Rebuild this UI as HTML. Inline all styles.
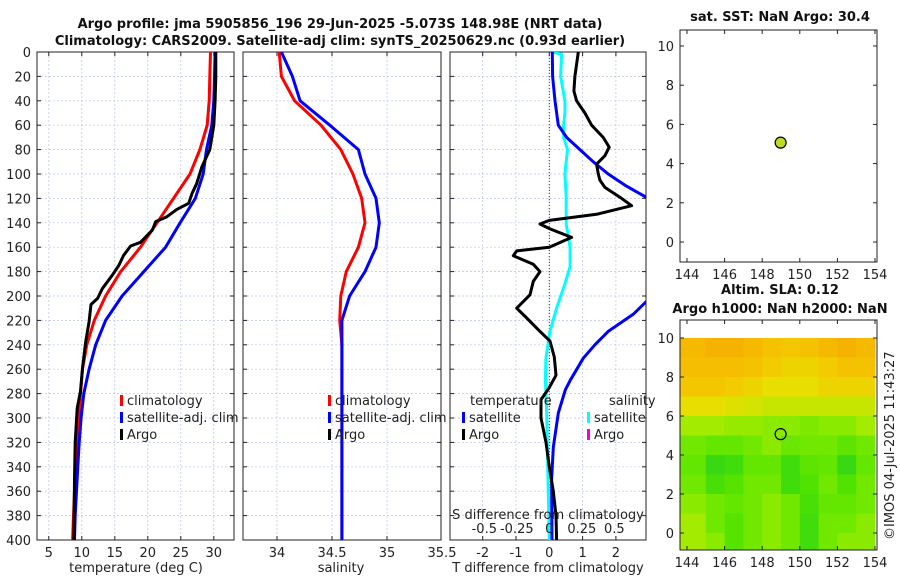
<!DOCTYPE html>
<html><head><meta charset="utf-8">
<style>
body{margin:0;background:#fff}
svg{display:block;font-family:"DejaVu Sans","Liberation Sans",sans-serif}
.t{font-size:13px;fill:#222}
.b{font-size:13px;font-weight:bold;fill:#111}
</style></head><body>
<svg id="c" width="900" height="580" viewBox="0 0 900 580">
<defs>
<clipPath id="cp1"><rect x="37" y="52" width="197" height="488"/></clipPath>
<clipPath id="cp2"><rect x="243" y="52" width="198" height="488"/></clipPath>
<clipPath id="cp3"><rect x="450" y="52" width="196" height="488"/></clipPath>
</defs>
<text class="b" x="340" y="28" text-anchor="middle">Argo profile: jma 5905856_196 29-Jun-2025 -5.073S 148.98E (NRT data)</text>
<text class="b" x="340" y="45" text-anchor="middle">Climatology: CARS2009. Satellite-adj clim: synTS_20250629.nc (0.93d earlier)</text>
<text class="b" x="780" y="21" text-anchor="middle">sat. SST: NaN Argo: 30.4</text>
<text class="b" x="780" y="294" text-anchor="middle">Altim. SLA: 0.12</text>
<text class="b" x="780" y="313" text-anchor="middle">Argo h1000: NaN h2000: NaN</text>
<text class="t" x="0" y="0" transform="translate(894,540) rotate(-90)">©IMOS 04-Jul-2025 11:43:27</text>
<g id="g"></g>
</svg>
<script>
// ---- data ----
const depths = [0,20,40,60,80,100,120,140,160,180,200,220,240,260,280,300,320,340,360,380,400];
const tClim = [29.5,29.4,29.3,29.0,27.9,26.4,23.9,21.4,18.9,15.9,13.6,11.9,10.75,10.1,9.8,9.5,9.3,9.1,8.9,8.75,8.6];
const tSat  = [30.2,30.1,30.0,29.7,28.9,28.4,27.2,24.9,22.7,19.4,16.1,13.6,12.1,11.1,10.3,9.9,9.6,9.4,9.2,9.0,8.9];
const argoDepths = [0,20,40,60,80,94,108,116,124,129,135,139,146,156,159,167,175,183,194,202,207,221,237,259,278,292,320,350,400];
const tArgo = [30.3,30.3,30.2,30.0,29.4,28.2,27.4,26.7,26.2,24.4,22.9,21.2,20.7,18.9,17.4,16.3,15.6,14.6,13.1,12.4,11.4,11.1,10.6,10.1,9.8,9.3,9.0,8.9,8.8];
const sClim = [34.02,34.04,34.16,34.40,34.58,34.69,34.77,34.80,34.74,34.63,34.58,34.57,34.59,34.59,34.59,34.59,34.59,34.59,34.59,34.59,34.59];
const sSat  = [34.04,34.14,34.21,34.48,34.74,34.80,34.90,34.93,34.90,34.80,34.66,34.59,34.59,34.59,34.59,34.59,34.59,34.59,34.59,34.59,34.59];
const dtArgoDepths = [0,20,32,40,50,60,70,78,85,92,100,105,111,119,126,133,138,141,145,152,160,163,167,174,180,188,199,210,218,229,237,250,265,275,285,300,320,340,360,380,400];
const dtArgo = [0.87,0.77,0.74,0.82,1.07,1.27,1.62,1.8,1.67,1.42,1.47,1.52,1.67,2.12,2.47,1.42,0.0,-0.28,0.02,0.67,0.0,-0.98,-1.08,-0.48,-0.28,-0.48,-0.58,-0.98,-0.68,-0.28,0.02,0.15,0.2,0.0,-0.25,-0.25,-0.1,0.0,0.12,0.2,0.22];
const dtSatDepths = [0,20,40,60,70,80,90,100,110,120,140,180,203,215,229,240,251,269,277,296,324,351,400];
const dtSat = [0.09,0.1,0.17,0.27,0.52,0.92,1.32,1.77,2.32,2.97,4.0,4.0,2.97,2.52,1.77,1.37,1.02,0.63,0.48,0.27,0.12,0.07,0.08];
const dsSatDepths = [0,2,20,40,50,60,70,80,100,119,141,160,176,190,210,229,251,269,296,351,400];
const dsSat = [0.03,0.095,0.087,0.12,0.12,0.11,0.11,0.14,0.12,0.13,0.13,0.16,0.16,0.12,0.056,0.005,-0.026,-0.03,-0.02,-0.01,0.0];
const tTicks = [5,10,15,20,25,30];
const sTicks = [34,34.5,35,35.5];
const dtTicks = [-2,-1,0,1,2];
const dsTicks = [-0.5,-0.25,0,0.25,0.5];
const depthTicks = [0,20,40,60,80,100,120,140,160,180,200,220,240,260,280,300,320,340,360,380,400];
const lonTicks = [144,146,148,150,152,154];
const latTicks = [0,2,4,6,8,10];
const slaGrid = [
[0.28,0.3,0.3,0.28,0.26,0.25,0.26,0.28,0.3,0.28],
[0.27,0.27,0.27,0.26,0.24,0.22,0.22,0.24,0.26,0.26],
[0.25,0.25,0.24,0.22,0.2,0.2,0.2,0.22,0.22,0.22],
[0.2,0.2,0.19,0.18,0.17,0.17,0.17,0.17,0.17,0.17],
[0.14,0.14,0.13,0.13,0.12,0.12,0.11,0.12,0.12,0.14],
[0.1,0.08,0.08,0.1,0.12,0.09,0.1,0.1,0.07,0.1],
[0.08,0.02,0.03,0.08,0.08,0.03,0.07,0.08,0.02,0.08],
[0.1,0.04,0.06,0.1,0.1,0.03,0.05,0.1,0.05,0.1],
[0.12,0.1,0.08,0.1,0.12,0.1,0.04,0.08,0.08,0.1],
[0.14,0.1,0.06,0.1,0.12,0.1,0.03,0.1,0.1,0.12],
[0.14,0.12,0.06,0.1,0.12,0.1,0.03,0.1,0.12,0.12]];
const argoLon = 148.98, argoLat = 5.07;

// ---- axes ----
const yD = d => 52 + d/400*488;
const xT = v => 15.8 + v*6.6;
const xS = v => 277 + (v-34)*110;
const xDT = v => 549.3 + v*33.3;
const xDS = v => 549.3 + v*130;
const xLon = v => 687 + (v-144)*18.8;
const yLat1 = v => 242 - v*19.6;
const yLat2 = v => 533 - v*19.5;

const NS = 'http://www.w3.org/2000/svg';
const G = document.getElementById('g');
function mk(tag, attrs, parent){const e=document.createElementNS(NS,tag);for(const k in attrs)e.setAttribute(k,attrs[k]);(parent||G).appendChild(e);return e;}
function txt(x,y,s,anchor,cls){const e=mk('text',{x:x,y:y,'text-anchor':anchor||'middle',class:cls||'t'});e.textContent=s;return e;}

function panel(name){
  const grp=mk('g',{});
  
  
  return grp;
}
function gridAndFrame(x0,w,xs,fx,grp){
  depthTicks.forEach(d=>{ if(d>0&&d<400) mk('line',{x1:x0,x2:x0+w,y1:yD(d),y2:yD(d),stroke:'#b8c4e8','stroke-width':0.7,'stroke-dasharray':'2,2'},grp);
    mk('line',{x1:x0,x2:x0+4,y1:yD(d),y2:yD(d),stroke:'#222'},grp); mk('line',{x1:x0+w-4,x2:x0+w,y1:yD(d),y2:yD(d),stroke:'#222'},grp);});
  xs.forEach(v=>{const x=fx(v); if(x>x0+1&&x<x0+w-1){ mk('line',{x1:x,x2:x,y1:52,y2:540,stroke:'#b8c4e8','stroke-width':0.7,'stroke-dasharray':'2,2'},grp);
    mk('line',{x1:x,x2:x,y1:536,y2:540,stroke:'#222'},grp); mk('line',{x1:x,x2:x,y1:52,y2:56,stroke:'#222'},grp);}
    const t=txt(x,557,String(v)); grp.appendChild(t);});
  mk('rect',{x:x0,y:52,width:w,height:488,fill:'none',stroke:'#222','stroke-width':1},grp);
}
function line(xs,ds,fx,col,clip,name,w){
  const p=mk('polyline',{points:xs.map((v,i)=>fx(v).toFixed(1)+','+yD(ds[i]).toFixed(1)).join(' '),fill:'none',stroke:col,'stroke-width':w||3,'stroke-linejoin':'round','clip-path':'url(#'+clip+')'});
  
  
}
function legItem(x,y,col,label,name){
  const r=mk('rect',{x:x,y:y-10,width:3,height:11,fill:col});
  
  
  txt(x+7,y,label,'start');
}

// panel 1
const p1=panel('temperature-panel');
gridAndFrame(37,197,tTicks,xT,p1);
depthTicks.forEach(d=>{txt(31,yD(d)+5,String(d),'end');});
line(tClim,depths,xT,'#ff0000','cp1','temp-climatology-line');
line(tSat,depths,xT,'#0000ff','cp1','temp-satellite-line');
line(tArgo,argoDepths,xT,'#000','cp1','temp-argo-line');
txt(136,572,'temperature (deg C)');
legItem(120,405,'#f00','climatology','legend-climatology');
legItem(120,422,'#00f','satellite-adj. clim','legend-satellite');
legItem(120,439,'#000','Argo','legend-argo');

// panel 2
const p2=panel('salinity-panel');
gridAndFrame(243,198,sTicks,xS,p2);
line(sClim,depths,xS,'#ff0000','cp2','sal-climatology-line');
line(sSat,depths,xS,'#0000ff','cp2','sal-satellite-line');
txt(341,572,'salinity');
legItem(328,405,'#f00','climatology','legend-sal-climatology');
legItem(328,422,'#00f','satellite-adj. clim','legend-sal-satellite');
legItem(328,439,'#000','Argo','legend-sal-argo');

// panel 3
const p3=panel('difference-panel');
gridAndFrame(450,196,dtTicks,xDT,p3);
mk('line',{x1:xDT(0),x2:xDT(0),y1:52,y2:540,stroke:'#333','stroke-width':1,'stroke-dasharray':'1,2'},p3);
line(dsSat,dsSatDepths,xDS,'#00ffff','cp3','sal-diff-satellite-line');
line(dtSat,dtSatDepths,xDT,'#0000ff','cp3','temp-diff-satellite-line');
line(dtArgo,dtArgoDepths,xDT,'#000','cp3','temp-diff-argo-line');
txt(548,572,'T difference from climatology');
txt(548,519,'S difference from climatology');
dsTicks.forEach(v=>{txt(xDS(v),533,String(v));});
txt(470,405,'temperature','start');
txt(609,405,'salinity','start');
legItem(462,422,'#00f','satellite','legend-tdiff-satellite');
legItem(462,439,'#000','Argo','legend-tdiff-argo');
legItem(587,422,'#0ff','satellite','legend-sdiff-satellite');
legItem(587,439,'#f0c','Argo','legend-sdiff-argo');

// maps
function mapAxes(y0,h,fy,grp){
  mk('rect',{x:680,y:y0,width:197,height:h,fill:'none',stroke:'#222'},grp);
  lonTicks.forEach(v=>{const x=xLon(v);mk('line',{x1:x,x2:x,y1:y0+h-4,y2:y0+h,stroke:'#222'},grp);mk('line',{x1:x,x2:x,y1:y0,y2:y0+4,stroke:'#222'},grp);grp.appendChild(txt(x,y0+h+17,String(v)));});
  latTicks.forEach(v=>{const y=fy(v);mk('line',{x1:680,x2:684,y1:y,y2:y,stroke:'#222'},grp);mk('line',{x1:873,x2:877,y1:y,y2:y,stroke:'#222'},grp);grp.appendChild(txt(674,y+5,String(v),'end'));});
}
const m1=panel('sst-map');
mapAxes(30,232,yLat1,m1);
const c1=mk('circle',{cx:xLon(argoLon),cy:yLat1(argoLat),r:5.5,fill:'#bbdd22',stroke:'#000','stroke-width':1.2});



const m2=panel('sla-map');
function slaColor(v){
  const stops=[[0,[40,210,30]],[0.05,[80,226,0]],[0.1,[112,232,0]],[0.15,[176,236,0]],[0.2,[232,222,0]],[0.25,[244,198,0]],[0.3,[246,178,0]]];
  for(let i=0;i<stops.length-1;i++){const [a,ca]=stops[i],[b,cb]=stops[i+1];if(v<=b){const t=Math.max(0,(v-a)/(b-a));return 'rgb('+ca.map((c,k)=>Math.round(c+(cb[k]-c)*t)).join(',')+')';}}
  return 'rgb(246,178,0)';
}
slaGrid.forEach((row,r)=>row.forEach((v,c)=>{
  const lat1=10-r, lat0=Math.max(-0.85,9-r);
  const x=xLon(144+c), y=yLat2(lat1);
  const cell=mk('rect',{x:c===0?680:x,y:y,width:(c===0?x-680:0)+18.8+0.5,height:yLat2(lat0)-y+0.5,fill:slaColor(v)},m2);
  
  
}));
mapAxes(320,230,yLat2,m2);
const c2=mk('circle',{cx:xLon(argoLon),cy:yLat2(argoLat),r:5.5,fill:'none',stroke:'#000','stroke-width':1.2});


</script>
</body></html>
